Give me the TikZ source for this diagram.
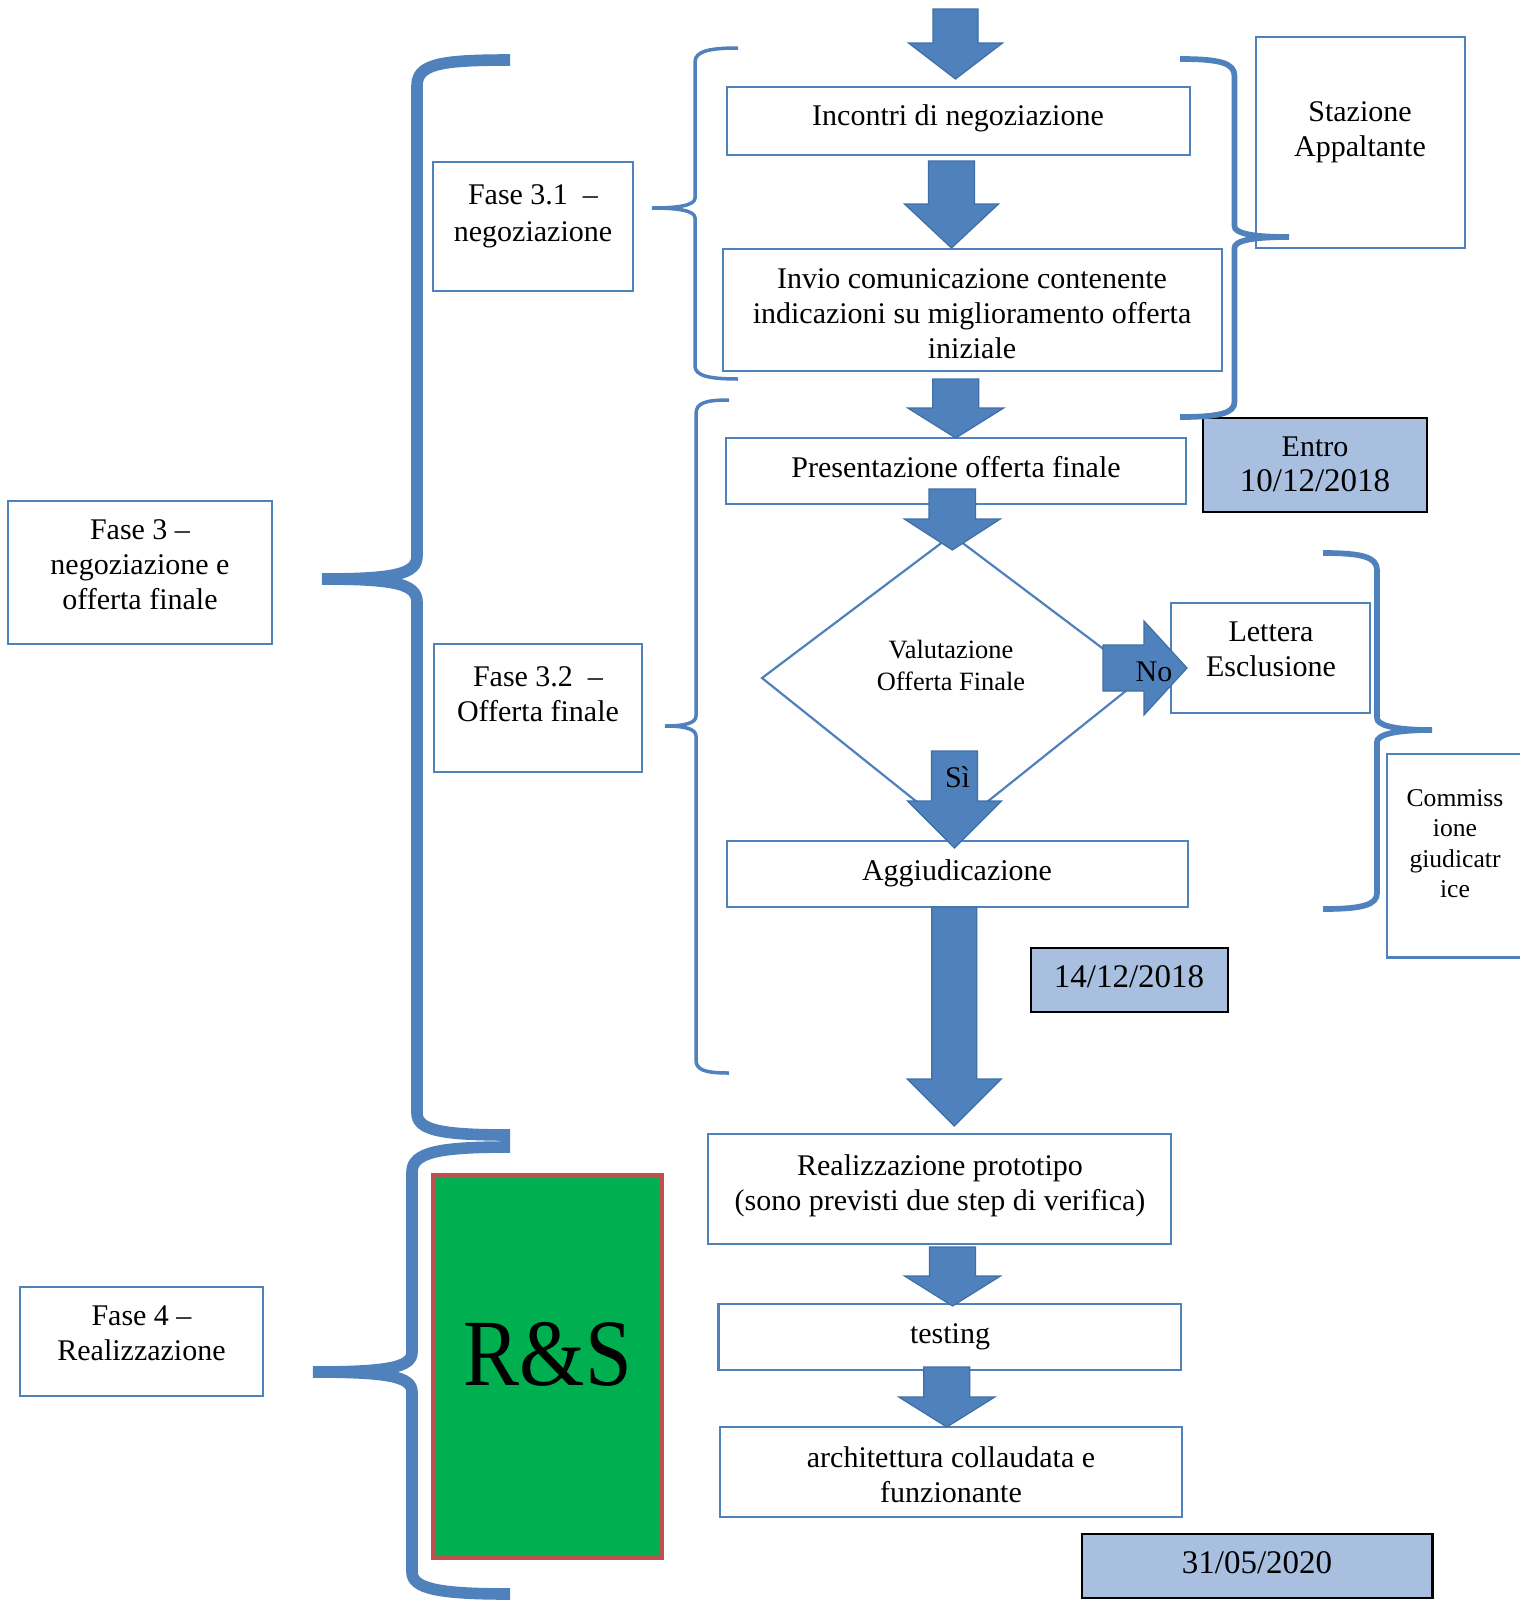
\documentclass[tikz,border=0pt]{standalone}
\usepackage{fontspec}
\setmainfont{Liberation Serif}
\usetikzlibrary{fit}
\definecolor{boxblue}{HTML}{4F81BD}
\definecolor{arrowblue}{HTML}{4F81BD}
\definecolor{arrowedge}{HTML}{3F6FA5}
\definecolor{dateblue}{HTML}{A9BFDF}
\definecolor{rsgreen}{HTML}{00B050}
\definecolor{rsred}{HTML}{C0504D}
\tikzset{
  box/.style={draw=boxblue, line width=1.2pt, fill=white, inner sep=0pt},
  datebox/.style={draw=black, line width=1.4pt, fill=dateblue, inner sep=0pt},
  rsbox/.style={draw=rsred, line width=2.5pt, fill=rsgreen, inner sep=0pt},
  txt/.style={font=\fontsize{15}{17.5}\selectfont, align=center, inner sep=0pt, yshift=-1.25pt},
  datetxt/.style={font=\fontsize{16.5}{17.5}\selectfont, align=center, inner sep=0pt, yshift=-1.25pt},
  smalltxt/.style={font=\fontsize{13.2}{16}\selectfont, align=center, inner sep=0pt, yshift=-1pt},
  commtxt/.style={font=\fontsize{12.8}{15.2}\selectfont, align=center, inner sep=0pt, yshift=-1.4pt},
  barrow/.style={fill=arrowblue, draw=arrowedge, line width=0.6pt, line join=miter},
  thinbrace/.style={draw=boxblue, line width=1.75pt},
  midbrace/.style={draw=boxblue, line width=2.85pt},
  bigbrace/.style={draw=boxblue, line width=5.8pt},
  diam/.style={draw=boxblue, line width=1.1pt, fill=white},
}
\newcommand{\blockdown}[6]{\draw[barrow] ({#1-#5},#2) -- ({#1+#5},#2) -- ({#1+#5},#3) -- ({#1+#6},#3) -- (#1,#4) -- ({#1-#6},#3) -- ({#1-#5},#3) -- cycle;}
\begin{document}
\begin{tikzpicture}[x=0.5pt,y=-0.5pt]
\useasboundingbox (0,0) rectangle (1520,1601);
\fill[white] (0,0) rectangle (1520,1601);
\clip (0,0) rectangle (1520,1601);

% boxes
\node[box, fit={(727,87) (1190,155)}] (incontri) {};
\node[box, fit={(723,249) (1222,371)}] (invio) {};
\node[box, fit={(726,438) (1186,504)}] (present) {};
\node[datebox, fit={(1203,418) (1427,512)}] (entro) {};
\node[box, fit={(1256,37) (1465,248)}] (stazione) {};
\node[box, fit={(433,162) (633,291)}] (fase31) {};
\node[box, fit={(8,501) (272,644)}] (fase3) {};
\node[box, fit={(434,644) (642,772)}] (fase32) {};
\node[box, fit={(1171,603) (1370,713)}] (lettera) {};
\node[box, fit={(727,841) (1188,907)}] (aggiud) {};
\node[datebox, fit={(1031,948) (1228,1012)}] (d1412) {};
\node[box, fit={(1387,754) (1540,957.5)}] (commiss) {};
\node[box, fit={(708,1134) (1171,1244)}] (realiz) {};
\node[box, fit={(718.6,1304) (1181,1370)}] (testing) {};
\node[box, fit={(720,1427) (1182,1517)}] (archit) {};
\node[datebox, fit={(1082,1534) (1432.5,1598)}] (d3105) {};
\node[box, fit={(20,1287) (263,1396)}] (fase4) {};
\node[rsbox, fit={(433.5,1175.5) (661.5,1557)}] (rs) {};

% diamond
\draw[diam] (952,535) coordinate (dtop) -- (1142,678) coordinate (dright) -- (952,830) coordinate (dbot) -- (762,678) coordinate (dleft) -- cycle;

% braces
\draw[bigbrace] (510,60) .. controls (440,60) and (417,64) .. (417,86) -- (417,556) .. controls (417,574) and (395,579) .. (322,579) .. controls (395,579) and (417,584) .. (417,602) -- (417,1113) .. controls (417,1130) and (440,1135) .. (510,1135);
\draw[bigbrace] (510,1147) .. controls (440,1147) and (412,1152) .. (412,1172) -- (412,1352) .. controls (412,1367) and (390,1372) .. (313,1372) .. controls (390,1372) and (412,1377) .. (412,1392) -- (412,1572) .. controls (412,1589) and (440,1594) .. (510,1594);
\draw[thinbrace] (738,48) .. controls (710,48) and (695,51) .. (695,62) -- (695,198) .. controls (695,205) and (680,208) .. (652,208) .. controls (680,208) and (695,211) .. (695,218) -- (695,366) .. controls (695,376) and (710,379) .. (738,379);
\draw[thinbrace] (729,400) .. controls (705,400) and (696,403) .. (696,414) -- (696,716) .. controls (696,723) and (685,726) .. (665,726) .. controls (685,726) and (696,729) .. (696,736) -- (696,1060) .. controls (696,1070) and (705,1073) .. (729,1073);
\draw[midbrace] (1180,59) .. controls (1220,59) and (1234.5,63) .. (1234.5,76) -- (1234.5,226) .. controls (1234.5,233) and (1250,237) .. (1289,237) .. controls (1250,237) and (1234.5,241) .. (1234.5,248) -- (1234.5,402) .. controls (1234.5,413) and (1220,417) .. (1180,417);
\draw[midbrace] (1323,553) .. controls (1362,553) and (1377,557) .. (1377,570) -- (1377,718) .. controls (1377,725) and (1393,730) .. (1432,730) .. controls (1393,730) and (1377,735) .. (1377,742) -- (1377,893) .. controls (1377,905) and (1362,909) .. (1323,909);

% block arrows
\blockdown{955.5}{9}{43}{79}{22.5}{47}
\blockdown{951.5}{161}{204}{248}{23}{47}
\blockdown{955.7}{379}{408}{438}{23}{48}
\blockdown{952.3}{489}{519}{550}{23.3}{48}
\blockdown{954.5}{751}{801}{848}{23}{47}
\blockdown{954.3}{907}{1079}{1126}{22.5}{47}
\blockdown{952.5}{1247}{1276}{1306}{23}{48}
\blockdown{946.8}{1367}{1397}{1427}{23}{48}
\draw[barrow] (1103,645) -- (1144,645) -- (1144,621) -- (1187,668) -- (1144,715) -- (1144,691) -- (1103,691) -- cycle;

% texts
\node[txt] (tincontri) at (958,116) {Incontri di negoziazione};
\node[txt] (tinvio) at (972,311) {Invio comunicazione contenente\\indicazioni su miglioramento offerta\\iniziale};
\node[txt] (tpresent) at (956,465) {Presentazione offerta finale};
\node[txt] (tentro) at (1315,462) {Entro\\{\fontsize{16.5}{17.5}\selectfont 10/12/2018}};
\node[txt] (tstazione) at (1360,130) {Stazione\\Appaltante};
\node[txt, font=\fontsize{15}{18.5}\selectfont] (tfase31) at (533,214) {Fase 3.1\ \ –\\negoziazione};
\node[txt] (tfase3) at (140,562) {Fase 3 –\\negoziazione e\\offerta finale};
\node[txt] (tfase32) at (538,692) {Fase 3.2\ \ –\\Offerta finale};
\node[smalltxt] (tvalut) at (951,663) {Valutazione\\Offerta Finale};
\node[txt, yshift=0.75pt] (tno) at (1154,671) {No};
\node[txt] (tlettera) at (1271,647) {Lettera\\Esclusione};
\node[txt, anchor=base, yshift=1.25pt] (tsi) at (957.5,787) {Sì};
\node[txt] (taggiud) at (957,871) {Aggiudicazione};
\node[datetxt] (t1412) at (1129,974) {14/12/2018};
\node[commtxt] (tcommiss) at (1455,841) {Commiss\\ione\\giudicatr\\ice};
\node[txt] (trealiz) at (940,1183) {Realizzazione prototipo\\(sono previsti due step di verifica)};
\node[txt] (ttesting) at (950,1334) {testing};
\node[txt] (tarchit) at (951,1472) {architettura collaudata e\\funzionante};
\node[datetxt] (t3105) at (1257,1560) {31/05/2020};
\node[txt] (tfase4) at (141.5,1331) {Fase 4 –\\Realizzazione};
\node[inner sep=0pt, font=\fontsize{42}{50}\selectfont] (trs) at (548,1354) {\scalebox{1}[1.13]{R\&S}};
\end{tikzpicture}
\end{document}
